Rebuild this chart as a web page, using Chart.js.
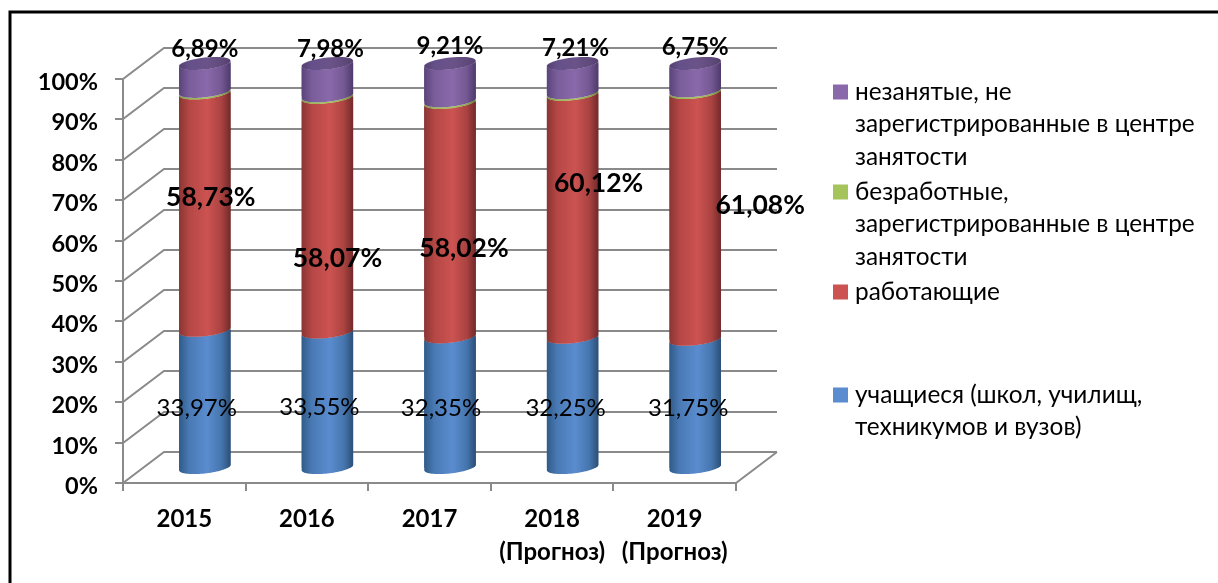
<!DOCTYPE html>
<html lang="ru">
<head>
<meta charset="utf-8">
<title>Структура населения</title>
<script src="https://cdn.jsdelivr.net/npm/chart.js@4"></script>
<style>
  html, body { margin: 0; padding: 0; background: #fff; }
  canvas { display: block; }
</style>
</head>
<body>
<canvas id="grafico" width="1218" height="583"></canvas>
<script>
// dados
const anos = ['2015', '2016', '2017', ['2018', '(Прогноз)'], ['2019', '(Прогноз)']];
const percentTicks = [0, 10, 20, 30, 40, 50, 60, 70, 80, 90, 100];
const uchashchiesya = [33.97, 33.55, 32.35, 32.25, 31.75];
const rabotayushchie = [58.73, 58.07, 58.02, 60.12, 61.08];
const bezrabotnye = [0.41, 0.40, 0.42, 0.42, 0.42];
const nezanyatye = [6.89, 7.98, 9.21, 7.21, 6.75];

const nomeUchashchiesya = ['учащиеся (школ, училищ,', 'техникумов и вузов)'];
const nomeRabotayushchie = ['работающие'];
const nomeBezrabotnye = ['безработные,', 'зарегистрированные в центре', 'занятости'];
const nomeNezanyatye = ['незанятые, не', 'зарегистрированные в центре', 'занятости'];

// cores do cilindro: borda esquerda, quase borda, centro, quase borda, borda direita
const azul = ['#2f5b88', '#4a7ab5', '#5a8ccf', '#4676ae', '#2b4f78'];
const vermelho = ['#8a3533', '#b54745', '#cc5351', '#aa4341', '#74292a'];
const verde = ['#7a9440', '#98b553', '#a5c45c', '#8ea94d', '#6a8238'];
const roxo = ['#5a4479', '#7a5d9b', '#8a69aa', '#745893', '#4e3a6c'];
const tampa = ['#54406f', '#66508a', '#6a5388', '#604a7c', '#54406f'];

// deslocamento dos rótulos em relação ao centro de cada segmento [dx, dy]
const offsetAzul = [[-8, 9], [-8, 8], [-9, 6], [-7, 6], [-7, 5]];
const offsetVermelho = [[6, -14], [10, 44], [14, 29], [26, -32], [65, -10]];
const offsetRoxo = [[0, -28], [3, -30], [0, -36], [3, -30], [0, -30]];

const fonte = 'Lato, Carlito, "Open Sans", sans-serif';
const depthX = 20.5; // meia profundidade da "caixa" 3D
const depthY = 15.5;
const elipseRy = 6;
const inclinacao = 0.105; // as elipses sobem um pouco para a direita

function gradiente(ctx, x, w, cores) {
  const g = ctx.createLinearGradient(x - w / 2, 0, x + w / 2, 0);
  g.addColorStop(0, cores[0]);
  g.addColorStop(0.2, cores[1]);
  g.addColorStop(0.55, cores[2]);
  g.addColorStop(0.82, cores[3]);
  g.addColorStop(1, cores[4]);
  return g;
}

function corBarra(cores) {
  return function (c) {
    const chart = c.chart;
    if (!chart.chartArea || c.dataIndex === undefined) return cores[2];
    return gradiente(chart.ctx, chart.scales.x.getPixelForValue(c.dataIndex), 51.5, cores);
  };
}

// metade de baixo da elipse, de um ângulo a outro
function arco(ctx, cx, cy, rx, de, ate) {
  const n = 40;
  for (let i = 0; i <= n; i++) {
    const t = de + (ate - de) * i / n;
    const dx = rx * Math.cos(t);
    ctx.lineTo(cx + dx, cy + elipseRy * Math.sin(t) - dx * inclinacao);
  }
}

// contorno de um segmento do cilindro: as duas bordas curvam para baixo
function caminhoSegmento(ctx, bar) {
  const rx = bar.width / 2;
  arco(ctx, bar.x, bar.base, rx, Math.PI, 0);
  arco(ctx, bar.x, bar.y, rx, 0, Math.PI);
  ctx.closePath();
}

const caixa3d = {
  id: 'caixa3d',
  beforeDraw(chart) {
    const ctx = chart.ctx;
    // moldura só em cima e à esquerda
    ctx.save();
    ctx.strokeStyle = '#000';
    ctx.lineWidth = 3;
    ctx.beginPath();
    ctx.moveTo(10, 583);
    ctx.lineTo(10, 12);
    ctx.lineTo(1218, 12);
    ctx.stroke();
    ctx.restore();
  },
  beforeDatasetsDraw(chart) {
    const ctx = chart.ctx;
    const y = chart.scales.y;
    const x = chart.scales.x;
    const esq = x.left;
    const dir = x.right;
    ctx.save();
    ctx.strokeStyle = '#8a8a8a';
    ctx.lineWidth = 2;
    ctx.beginPath();
    percentTicks.forEach(function (t) {
      const py = y.getPixelForValue(t);
      ctx.moveTo(esq - depthX - 8, Math.round(py + depthY));
      ctx.lineTo(esq - depthX, Math.round(py + depthY));
      ctx.lineTo(esq + depthX, Math.round(py - depthY));
      ctx.lineTo(dir + depthX, Math.round(py - depthY));
    });
    const base = y.getPixelForValue(0);
    const topo = y.getPixelForValue(100);
    // eixo vertical da frente
    ctx.moveTo(esq - depthX, Math.round(topo + depthY));
    ctx.lineTo(esq - depthX, Math.round(base + depthY));
    // chão
    ctx.lineTo(dir - depthX, Math.round(base + depthY));
    ctx.lineTo(dir + depthX, Math.round(base - depthY));
    const passo = (dir - esq) / anos.length;
    for (let i = 0; i <= anos.length; i++) {
      const px = Math.round(esq - depthX + passo * i);
      ctx.moveTo(px, Math.round(base + depthY));
      ctx.lineTo(px, Math.round(base + depthY) + 8);
    }
    ctx.stroke();
    ctx.restore();
  },
  beforeDatasetDraw(chart, args) {
    const ctx = chart.ctx;
    // corta a barra nativa no formato do cilindro
    ctx.save();
    ctx.beginPath();
    args.meta.data.forEach(function (bar) {
      ctx.moveTo(bar.x - bar.width / 2, bar.base);
      caminhoSegmento(ctx, bar);
    });
    ctx.clip();
  },
  afterDatasetDraw(chart) {
    chart.ctx.restore();
  },
  // a ordem de desenho nativa é do topo para a base; aqui repinta da base para o topo
  afterDatasetsDraw(chart) {
    const ctx = chart.ctx;
    const total = chart.data.datasets.length;
    chart.data.datasets.forEach(function (ds, indice) {
      chart.getDatasetMeta(indice).data.forEach(function (bar) {
        ctx.save();
        ctx.beginPath();
        caminhoSegmento(ctx, bar);
        ctx.fillStyle = gradiente(ctx, bar.x, bar.width, ds.cores);
        ctx.fill();
        // tampa do cilindro
        if (indice === total - 1) {
          ctx.beginPath();
          arco(ctx, bar.x, bar.y, bar.width / 2, 0, Math.PI * 2);
          ctx.closePath();
          ctx.fillStyle = gradiente(ctx, bar.x, bar.width, tampa);
          ctx.fill();
        }
        ctx.restore();
      });
    });
  }
};

function textoValor(v) {
  return v.toFixed(2).replace('.', ',') + '%';
}

const rotulos = {
  id: 'rotulos',
  afterDraw(chart) {
    const ctx = chart.ctx;
    ctx.save();
    ctx.fillStyle = '#000';
    ctx.textAlign = 'center';
    ctx.textBaseline = 'middle';
    function serie(indice, valores, offset, font) {
      const meta = chart.getDatasetMeta(indice);
      ctx.font = font;
      meta.data.forEach(function (bar, i) {
        const meio = (bar.y + bar.base) / 2;
        ctx.fillText(textoValor(valores[i]), bar.x + offset[i][0], meio + offset[i][1]);
      });
    }
    serie(0, uchashchiesya, offsetAzul, '24px ' + fonte);
    serie(1, rabotayushchie, offsetVermelho, 'bold 26.5px ' + fonte);
    serie(3, nezanyatye, offsetRoxo, 'bold 24px ' + fonte);

    // legenda
    ctx.textAlign = 'left';
    ctx.font = '24.4px ' + fonte;
    const itens = [
      [nomeNezanyatye, roxo[2], 92],
      [nomeBezrabotnye, verde[2], 192],
      [nomeRabotayushchie, vermelho[2], 292],
      [nomeUchashchiesya, azul[2], 395]
    ];
    itens.forEach(function (item) {
      ctx.fillStyle = item[1];
      ctx.fillRect(833, item[2] - 7.5, 15, 15);
      ctx.fillStyle = '#000';
      item[0].forEach(function (linha, i) {
        ctx.fillText(linha, 855, item[2] + i * 32.5);
      });
    });
    ctx.restore();
  }
};

const grafico = new Chart(document.getElementById('grafico'), {
  type: 'bar',
  data: {
    labels: anos,
    datasets: [
      { label: 'учащиеся (школ, училищ, техникумов и вузов)', data: uchashchiesya, cores: azul, backgroundColor: corBarra(azul) },
      { label: 'работающие', data: rabotayushchie, cores: vermelho, backgroundColor: corBarra(vermelho) },
      { label: 'безработные, зарегистрированные в центре занятости', data: bezrabotnye, cores: verde, backgroundColor: corBarra(verde) },
      { label: 'незанятые, не зарегистрированные в центре занятости', data: nezanyatye, cores: roxo, backgroundColor: corBarra(roxo) }
    ]
  },
  options: {
    responsive: false,
    animation: false,
    layout: { padding: { left: 0, top: 63.5, right: 461.5, bottom: 0 } },
    datasets: { bar: { barThickness: 51.5, clip: false } },
    plugins: { legend: { display: false }, tooltip: { enabled: false }, title: { display: false } },
    scales: {
      x: {
        stacked: true,
        grid: { display: false, drawTicks: false },
        border: { display: false },
        afterFit(scale) { scale.height = 115.5; },
        ticks: {
          color: '#000',
          font: { family: fonte, size: 24, weight: 'bold', lineHeight: 1.375 },
          padding: 35,
          labelOffset: -20.5,
          autoSkip: false,
          maxRotation: 0,
          minRotation: 0
        }
      },
      y: {
        stacked: true,
        min: 0,
        max: 100,
        grid: { display: false, drawTicks: false },
        border: { display: false },
        afterFit(scale) { scale.width = 143.5; },
        ticks: {
          color: '#000',
          stepSize: 10,
          font: { family: fonte, size: 23.5, weight: 'bold' },
          padding: 45.5,
          labelOffset: 19,
          callback: function (v) { return v + '%'; }
        }
      }
    }
  },
  plugins: [caixa3d, rotulos]
});
</script>
</body>
</html>
